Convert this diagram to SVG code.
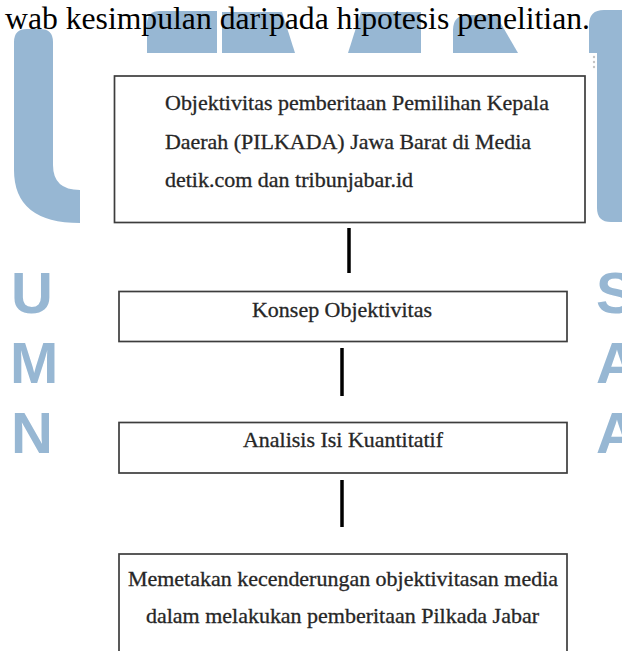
<svg xmlns="http://www.w3.org/2000/svg" width="622" height="651" viewBox="0 0 622 651">
  <style>
    .wm { fill: #97b7d3; }
    .wmt { fill: #97b7d3; font-family: "Liberation Sans", Arial, sans-serif; font-weight: bold; font-size: 58px; }
    .box { fill: #ffffff; stroke: #3d3d3d; stroke-width: 1.7; }
    .t { font-family: "Liberation Serif", "Times New Roman", serif; font-size: 21px; fill: #262626; stroke: #262626; stroke-width: 0.3; }
    .head { font-family: "Liberation Serif", "Times New Roman", serif; font-size: 31.5px; fill: #000000; }
    .conn { stroke: #000000; stroke-width: 3.5; fill: none; }
  </style>
  <rect width="622" height="651" fill="#ffffff"/>
  <g id="watermark">
    <path class="wm" d="M14,42 Q14,29 27,29 L40,29 Q53,29 53,42 L53,165 Q53,190 80,190 L80,223 Q14,223 14,170 Z"/>
    <path class="wm" d="M147,53 V24 Q147,11 160,11 H217 V53 Z"/>
    <path class="wm" d="M222,53 V12 H282 L295,53 Z"/>
    <path class="wm" d="M348,53 L361,12 H421 V53 Z"/>
    <path class="wm" d="M453,53 V30 Q453,15 468,15 H496 L518,53 Z"/>
    <path class="wm" d="M589,53 V25 Q589,10 604,10 H622 V222 H611 Q597,222 597,208 V53 Z"/>
    <text class="wmt" x="11" y="313">U</text>
    <text class="wmt" x="10" y="383">M</text>
    <text class="wmt" x="11" y="453">N</text>
    <text class="wmt" x="596" y="313">S</text>
    <text class="wmt" x="596" y="383">A</text>
    <text class="wmt" x="596" y="453">A</text>
    <circle cx="594" cy="57" r="1.2" fill="#c4c4c4"/>
    <circle cx="594" cy="62" r="1.2" fill="#c4c4c4"/>
    <circle cx="594" cy="67" r="1.2" fill="#c4c4c4"/>
  </g>
  <text class="head" x="5" y="28.5" textLength="585" lengthAdjust="spacingAndGlyphs">wab kesimpulan daripada hipotesis penelitian.</text>
  <g id="connectors">
    <line class="conn" x1="349" y1="228" x2="349" y2="273"/>
    <line class="conn" x1="342" y1="348" x2="342" y2="396"/>
    <line class="conn" x1="342" y1="480" x2="342" y2="527"/>
  </g>
  <g id="node1">
    <rect class="box" x="114.5" y="76" width="470.5" height="146.5"/>
    <text class="t" x="165" y="110" textLength="384" lengthAdjust="spacingAndGlyphs">Objektivitas pemberitaan Pemilihan Kepala</text>
    <text class="t" x="165" y="148.5" textLength="366" lengthAdjust="spacingAndGlyphs">Daerah (PILKADA) Jawa Barat di Media</text>
    <text class="t" x="165" y="187" textLength="248" lengthAdjust="spacingAndGlyphs">detik.com dan tribunjabar.id</text>
  </g>
  <g id="node2">
    <rect class="box" x="119" y="291.5" width="448" height="50"/>
    <text class="t" x="252" y="316.5" textLength="180" lengthAdjust="spacingAndGlyphs">Konsep Objektivitas</text>
  </g>
  <g id="node3">
    <rect class="box" x="119" y="422.5" width="448" height="50.5"/>
    <text class="t" x="243" y="446.5" textLength="200" lengthAdjust="spacingAndGlyphs">Analisis Isi Kuantitatif</text>
  </g>
  <g id="node4">
    <rect class="box" x="119" y="554" width="448" height="110"/>
    <text class="t" x="128" y="586" textLength="430" lengthAdjust="spacingAndGlyphs">Memetakan kecenderungan objektivitasan media</text>
    <text class="t" x="146" y="623" textLength="393" lengthAdjust="spacingAndGlyphs">dalam melakukan pemberitaan Pilkada Jabar</text>
  </g>
</svg>
